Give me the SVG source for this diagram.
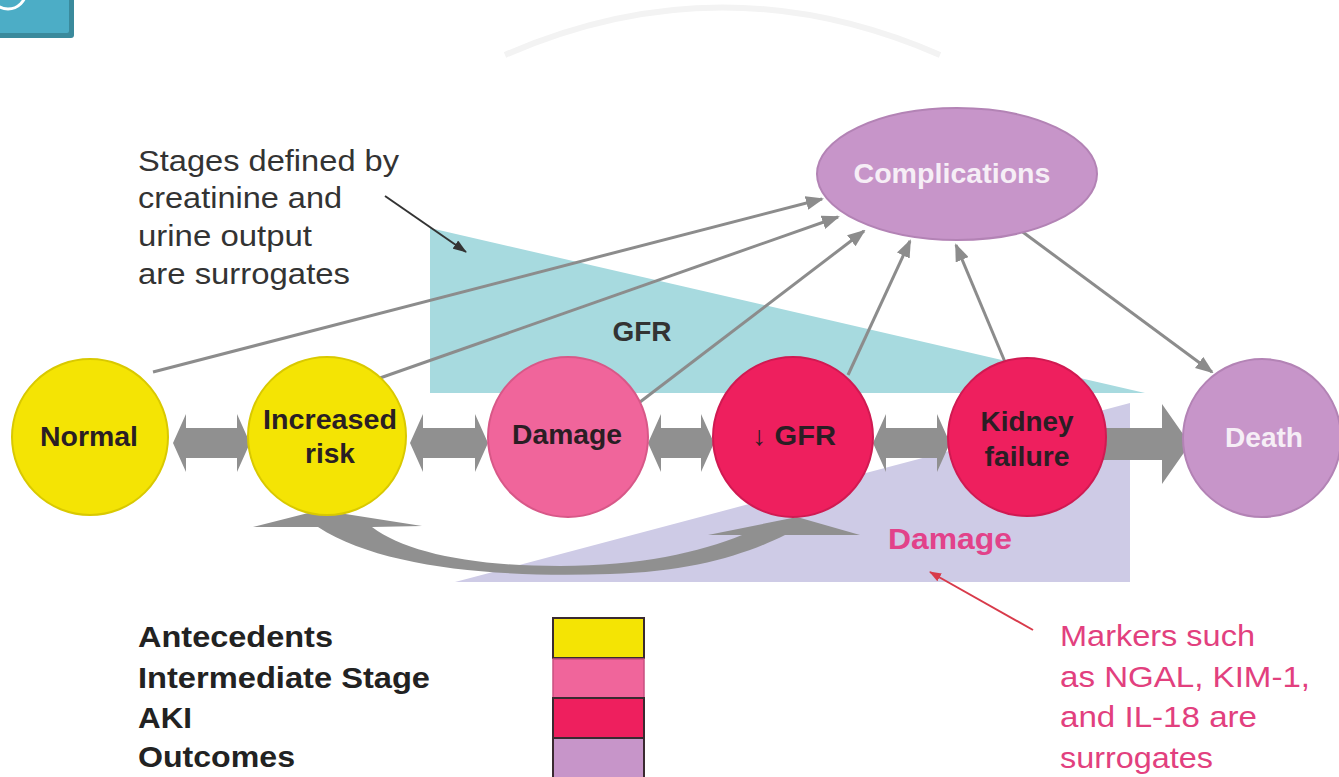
<svg xmlns="http://www.w3.org/2000/svg" width="1339" height="777" viewBox="0 0 1339 777">
  <style>
    text { font-family: "Liberation Sans", Arial, sans-serif; }
    .lbl { font-weight: bold; font-size: 27px; fill: #2a1e24; text-anchor: middle; }
    .wlbl { font-weight: bold; font-size: 27px; fill: #f6eef6; text-anchor: middle; }
    .note { font-size: 29px; fill: #333; }
    .leg { font-size: 30px; font-weight: bold; fill: #222; }
    .mark { font-size: 29px; fill: #e2407e; }
    .thin { stroke: #8c8c8c; stroke-width: 3; fill: none; marker-end: url(#ah); }
    .fat { fill: #909090; }
    .circ { stroke-width: 2; }
    .legbox { stroke: #3a2a30; stroke-width: 2; }
  </style>
  <defs>
    <marker id="ah" markerUnits="userSpaceOnUse" markerWidth="18" markerHeight="14" refX="16" refY="7" orient="auto">
      <path d="M0,0 L18,7 L0,14 Z" fill="#8c8c8c"/>
    </marker>
    <marker id="ahd" markerUnits="userSpaceOnUse" markerWidth="14" markerHeight="10" refX="13" refY="5" orient="auto">
      <path d="M0,0 L14,5 L0,10 Z" fill="#333"/>
    </marker>
    <marker id="ahr" markerUnits="userSpaceOnUse" markerWidth="12" markerHeight="9" refX="11" refY="4.5" orient="auto">
      <path d="M0,0 L12,4.5 L0,9 Z" fill="#d83a4a"/>
    </marker>
  </defs>

  <rect width="1339" height="777" fill="#ffffff"/>

  <!-- top-left decoration -->
  <g id="corner">
    <rect x="-6" y="-6" width="80" height="44" rx="3" fill="#3a8a9c"/>
    <rect x="-6" y="-6" width="75" height="39" rx="2" fill="#4cadc6"/>
    <circle cx="8" cy="-9" r="18" fill="none" stroke="#ffffff" stroke-width="3"/>
  </g>
  <path d="M505,55 Q722,-40 940,55" fill="none" stroke="#f3f3f3" stroke-width="6"/>

  <!-- background wedges -->
  <g id="gfr-wedge">
    <polygon points="430,228 430,393 1145,393" fill="#a7dadf"/>
    <text x="642" y="341" font-size="28" font-weight="bold" fill="#333" text-anchor="middle">GFR</text>
  </g>
  <g id="damage-wedge">
    <polygon points="455,582 1130,403 1130,582" fill="#cecbe6"/>
    <text x="950" y="549" font-size="30" font-weight="bold" fill="#e2428a" text-anchor="middle" textLength="124" lengthAdjust="spacingAndGlyphs">Damage</text>
  </g>

  <!-- connectors -->
  <g id="connectors">
    <!-- thick horizontal arrows -->
    <path class="fat" d="M173,443 L186,414 L186,428 L237,428 L237,414 L250,443 L237,472 L237,458 L186,458 L186,472 Z"/>
    <path class="fat" d="M410,443 L423,414 L423,428 L475,428 L475,414 L488,443 L475,472 L475,458 L423,458 L423,472 Z"/>
    <path class="fat" d="M648,443 L661,414 L661,428 L701,428 L701,414 L714,443 L701,472 L701,458 L661,458 L661,472 Z"/>
    <path class="fat" d="M873,443 L886,414 L886,428 L937,428 L937,414 L950,443 L937,472 L937,458 L886,458 L886,472 Z"/>
    <path class="fat" d="M1100,428 L1162,428 L1162,404 L1190,444 L1162,484 L1162,460 L1100,460 Z"/>
    <!-- curved feedback arrow -->
    <path class="fat" d="M253,527 L320,510 L422,526 L372,527 C405,552 470,566 560,566 C640,566 700,552 742,535 L708,535 L797,517 L860,535 L785,535 C745,555 690,572 610,574 C500,578 380,568 318,527 Z" fill="#8a8a8a"/>
    <!-- thin arrows to Complications -->
    <line class="thin" x1="153" y1="372" x2="822" y2="199"/>
    <line class="thin" x1="380" y1="378" x2="838" y2="217"/>
    <line class="thin" x1="640" y1="402" x2="864" y2="231"/>
    <line class="thin" x1="848" y1="375" x2="910" y2="241"/>
    <line class="thin" x1="1005" y1="362" x2="956" y2="245"/>
    <line class="thin" x1="1020" y1="230" x2="1212" y2="372"/>
    <!-- annotation pointers -->
    <line x1="385" y1="196" x2="466" y2="252" stroke="#333" stroke-width="2" marker-end="url(#ahd)"/>
    <line x1="1033" y1="630" x2="930" y2="572" stroke="#d83a4a" stroke-width="2" marker-end="url(#ahr)"/>
  </g>

  <!-- nodes -->
  <g id="node-normal">
    <circle class="circ" cx="90" cy="437" r="78" fill="#f4e404" stroke="#d9c900"/>
    <text class="lbl" x="89" y="446" textLength="98" lengthAdjust="spacingAndGlyphs">Normal</text>
  </g>
  <g id="node-increased-risk">
    <circle class="circ" cx="327" cy="436" r="79" fill="#f4e404" stroke="#d9c900"/>
    <text class="lbl" x="330" y="429" textLength="134" lengthAdjust="spacingAndGlyphs">Increased</text>
    <text class="lbl" x="330" y="463" textLength="50" lengthAdjust="spacingAndGlyphs">risk</text>
  </g>
  <g id="node-damage">
    <circle class="circ" cx="568" cy="437" r="80" fill="#f0659b" stroke="#d85888"/>
    <text class="lbl" x="567" y="444" textLength="110" lengthAdjust="spacingAndGlyphs">Damage</text>
  </g>
  <g id="node-gfr">
    <circle class="circ" cx="793" cy="437" r="80" fill="#ee1f5e" stroke="#d01a52"/>
    <text class="lbl" x="794" y="445" textLength="84" lengthAdjust="spacingAndGlyphs">↓ GFR</text>
  </g>
  <g id="node-kidney-failure">
    <circle class="circ" cx="1027" cy="437" r="79" fill="#ee1f5e" stroke="#d01a52"/>
    <text class="lbl" x="1027" y="431" textLength="93" lengthAdjust="spacingAndGlyphs">Kidney</text>
    <text class="lbl" x="1027" y="466" textLength="85" lengthAdjust="spacingAndGlyphs">failure</text>
  </g>
  <g id="node-death">
    <circle class="circ" cx="1262" cy="438" r="79" fill="#c795c9" stroke="#b383b5"/>
    <text class="wlbl" x="1264" y="447" textLength="78" lengthAdjust="spacingAndGlyphs">Death</text>
  </g>
  <g id="node-complications">
    <ellipse class="circ" cx="957" cy="174" rx="140" ry="66" fill="#c795c9" stroke="#b383b5"/>
    <text class="wlbl" x="952" y="183" textLength="197" lengthAdjust="spacingAndGlyphs">Complications</text>
  </g>

  <!-- annotation texts -->
  <g id="note-stages">
    <text class="note" x="138" y="171" textLength="261" lengthAdjust="spacingAndGlyphs">Stages defined by</text>
    <text class="note" x="138" y="208" textLength="204" lengthAdjust="spacingAndGlyphs">creatinine and</text>
    <text class="note" x="138" y="246" textLength="174" lengthAdjust="spacingAndGlyphs">urine output</text>
    <text class="note" x="138" y="284" textLength="212" lengthAdjust="spacingAndGlyphs">are surrogates</text>
  </g>
  <g id="note-markers">
    <text class="mark" x="1060" y="646" textLength="195" lengthAdjust="spacingAndGlyphs">Markers such</text>
    <text class="mark" x="1060" y="687" textLength="250" lengthAdjust="spacingAndGlyphs">as NGAL, KIM-1,</text>
    <text class="mark" x="1060" y="727" textLength="197" lengthAdjust="spacingAndGlyphs">and IL-18 are</text>
    <text class="mark" x="1060" y="768" textLength="153" lengthAdjust="spacingAndGlyphs">surrogates</text>
  </g>

  <!-- legend -->
  <g id="legend">
    <text class="leg" x="138" y="647" textLength="195" lengthAdjust="spacingAndGlyphs">Antecedents</text>
    <text class="leg" x="138" y="688" textLength="292" lengthAdjust="spacingAndGlyphs">Intermediate Stage</text>
    <text class="leg" x="138" y="728" textLength="54" lengthAdjust="spacingAndGlyphs">AKI</text>
    <text class="leg" x="138" y="767" textLength="157" lengthAdjust="spacingAndGlyphs">Outcomes</text>
    <rect class="legbox" x="553" y="618" width="91" height="40" fill="#f4e404"/>
    <rect x="553" y="659" width="91" height="39" fill="#f0659b" stroke="#c85080" stroke-width="1.5"/>
    <rect class="legbox" x="553" y="698" width="91" height="40" fill="#ee1f5e"/>
    <rect class="legbox" x="553" y="738" width="91" height="42" fill="#c795c9"/>
  </g>
</svg>
